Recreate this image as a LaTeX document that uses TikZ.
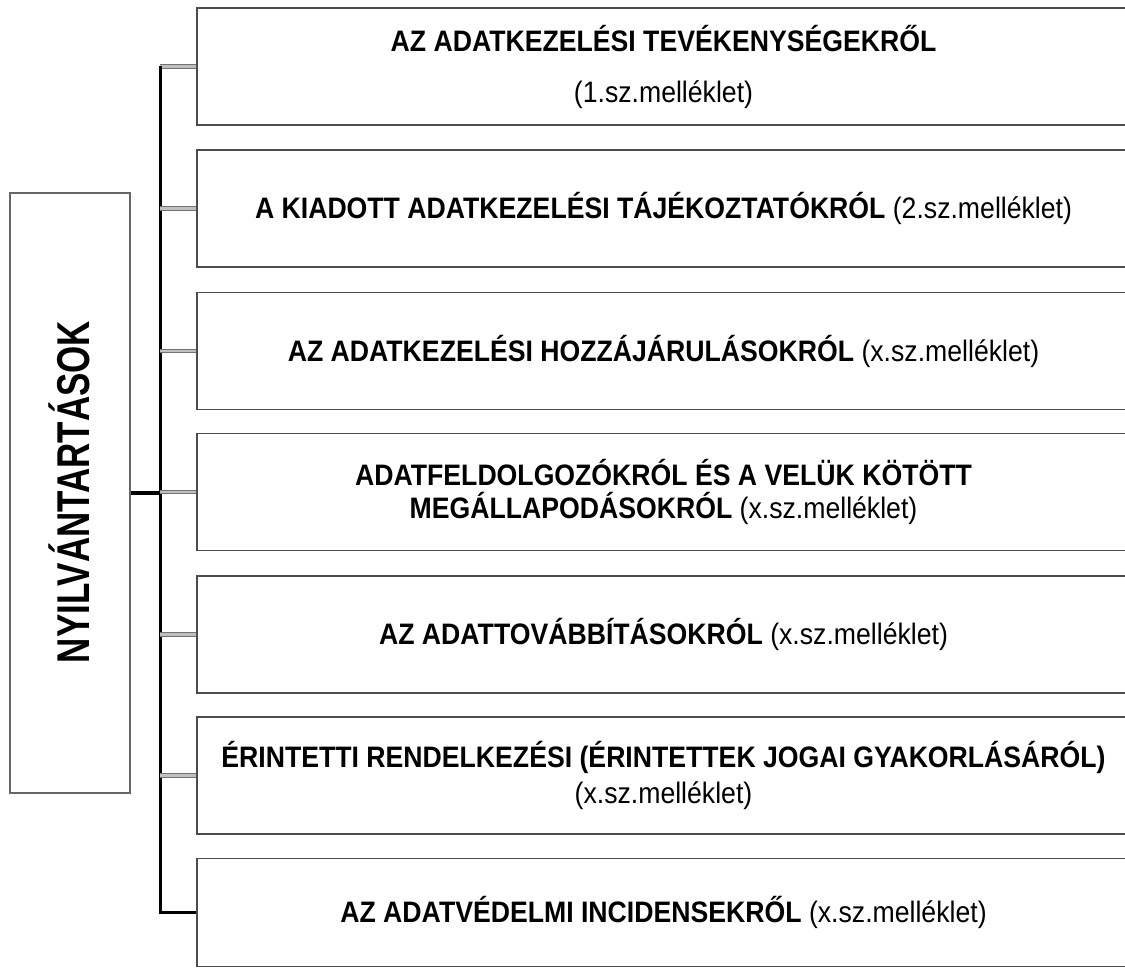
\documentclass[tikz,border=0pt]{standalone}
\usepackage{fontspec}
\setmainfont{Liberation Sans}[FakeStretch=0.9]
\newfontfamily\headfont{Liberation Sans}[FakeStretch=0.76]
\usetikzlibrary{positioning}

\begin{document}
\begin{tikzpicture}
[x=0.5pt, y=-0.5pt,
 item/.style={draw=black!70, line width=0.9pt, minimum width=466.5pt, minimum height=58.5pt,
   align=center, font=\fontsize{14.8}{16.5}\selectfont\bfseries, inner sep=0pt},
 head/.style={draw=black!60, line width=1.1pt, minimum width=60pt, minimum height=300pt, inner sep=0pt},
 bus/.style={line width=1.6pt, draw=black},
 branch/.style={draw=black!55, line width=0.5pt, double=black!25, double distance=1.2pt}]
\useasboundingbox (0,0) rectangle (1125,972);
\node[head] (main) at (70,493) {};
\node[rotate=90, font=\headfont\fontsize{23}{23}\selectfont\bfseries] (mainlabel) at (69,492) {NYILVÁNTARTÁSOK};
\node[item] (b1) at (663.5,66.5) {AZ ADATKEZELÉSI TEVÉKENYSÉGEKRŐL\\[9pt] \mdseries(1.sz.melléklet)};
\node[item] (b2) at (663.5,208.5) {A KIADOTT ADATKEZELÉSI TÁJÉKOZTATÓKRÓL \mdseries(2.sz.melléklet)};
\node[item] (b3) at (663.5,351) {AZ ADATKEZELÉSI HOZZÁJÁRULÁSOKRÓL \mdseries(x.sz.melléklet)};
\node[item] (b4) at (663.5,492) {ADATFELDOLGOZÓKRÓL ÉS A VELÜK KÖTÖTT\\ MEGÁLLAPODÁSOKRÓL \mdseries(x.sz.melléklet)};
\node[item] (b5) at (663.5,634.5) {AZ ADATTOVÁBBÍTÁSOKRÓL \mdseries(x.sz.melléklet)};
\node[item] (b6) at (663.5,775.5) {ÉRINTETTI RENDELKEZÉSI (ÉRINTETTEK JOGAI GYAKORLÁSÁRÓL)\\[1.5pt] \mdseries(x.sz.melléklet)};
\node[item, minimum height=54pt] (b7) at (663.5,912.5) {AZ ADATVÉDELMI INCIDENSEKRŐL \mdseries(x.sz.melléklet)};
% tree lines
\draw[branch] (b1.west) -- ++(-36,0) coordinate (bustop);
\draw[bus] (bustop) |- (b7.west);
\draw[bus] (main.east) -- (main.east -| bustop);
\draw[branch] (b2.west) -- (b2.west -| bustop);
\draw[branch] (b3.west) -- (b3.west -| bustop);
\draw[branch] (b4.west) -- (b4.west -| bustop);
\draw[branch] (b5.west) -- (b5.west -| bustop);
\draw[branch] (b6.west) -- (b6.west -| bustop);
\end{tikzpicture}
\end{document}
